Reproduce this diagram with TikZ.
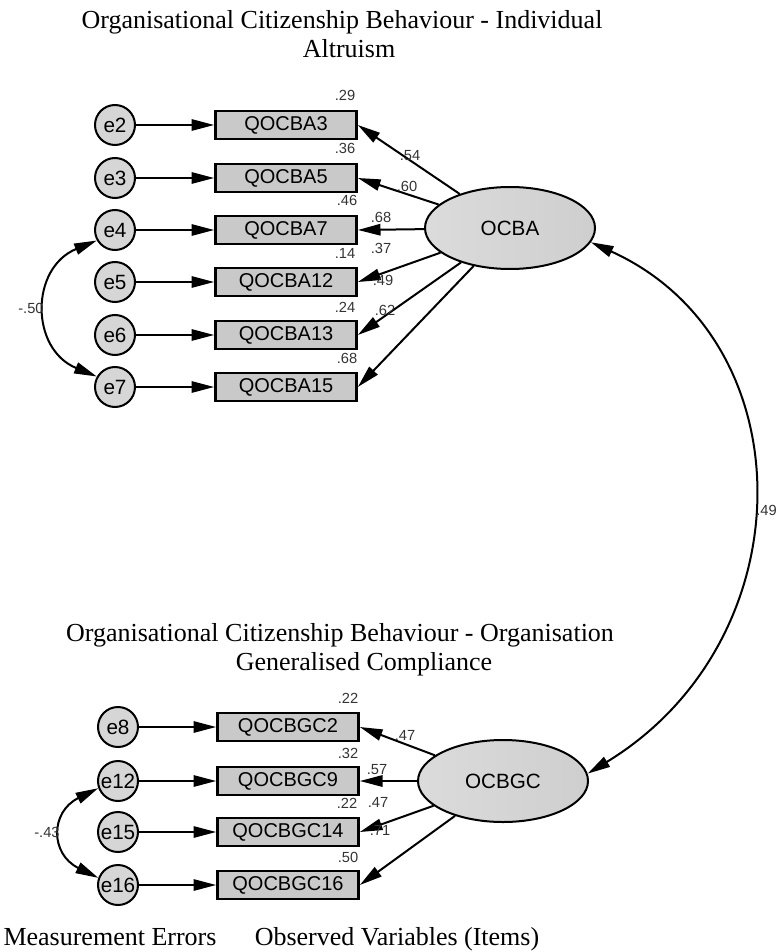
\documentclass[tikz,border=0pt]{standalone}
\usepackage{fontspec}
\setmainfont{Liberation Serif}
\newfontfamily\arialf{Liberation Sans}
\usetikzlibrary{arrows.meta,shapes.geometric}
\begin{document}
\begin{tikzpicture}[x=0.75pt,y=-0.75pt,
 errc/.style={circle,draw,line width=1.5pt,fill=gray!32,minimum size=30pt,inner sep=0pt,font=\arialf\fontsize{15.5}{18}\selectfont},
 obs/.style={rectangle,draw,line width=2pt,fill=gray!42,minimum width=105.75pt,minimum height=21pt,inner sep=0pt,font=\arialf\fontsize{15}{18}\selectfont},
 lat/.style={ellipse,draw,line width=1.5pt,left color=gray!28,right color=gray!38,minimum width=127.5pt,minimum height=61.5pt,inner sep=0pt,font=\arialf\fontsize{15.5}{18}\selectfont},
 arr/.style={-{Triangle[length=17pt,width=8.5pt]},line width=1.5pt},
 dbl/.style={{Triangle[length=17pt,width=8.5pt]}-{Triangle[length=17pt,width=8.5pt]},line width=1.5pt},
 num/.style={font=\arialf\fontsize{11}{13}\selectfont,text=black!80,inner sep=0pt},
 ttl/.style={font=\fontsize{19.5}{22}\selectfont,inner sep=0pt,anchor=base}]
\useasboundingbox (0,0) rectangle (777,952);

% titles
\node[ttl] (t1a) at (342,29) {Organisational Citizenship Behaviour - Individual};
\node[ttl] (t1b) at (349,58) {Altruism};
\node[ttl] (t2a) at (340,641) {Organisational Citizenship Behaviour - Organisation};
\node[ttl] (t2b) at (364,670) {Generalised Compliance};
\node[ttl] (b1) at (110,945) {Measurement Errors};
\node[ttl] (b2) at (397,945) {Observed Variables (Items)};

% upper block
\node[errc] (e2) at (115,125) {e2};
\node[errc] (e3) at (115,178) {e3};
\node[errc] (e4) at (115,230) {e4};
\node[errc] (e5) at (115,282) {e5};
\node[errc] (e6) at (115,335) {e6};
\node[errc] (e7) at (115,387) {e7};

\node[obs] (a3) at (286,125) {QOCBA3};
\node[obs] (a5) at (286,178) {QOCBA5};
\node[obs] (a7) at (286,230) {QOCBA7};
\node[obs] (a12) at (286,282) {QOCBA12};
\node[obs] (a13) at (286,335) {QOCBA13};
\node[obs] (a15) at (286,387) {QOCBA15};

\node[lat] (OCBA) at (510,228) {OCBA};

\foreach \e/\r in {e2/a3,e3/a5,e4/a7,e5/a12,e6/a13,e7/a15}
  \draw[arr] (\e) -- (\r.west);
\foreach \r in {a3,a5,a7,a12,a13,a15}
  \draw[arr] (OCBA) -- (\r.east);

\draw[dbl] (e4.210) .. controls (30,268) and (30,349) .. (e7.150);
\node[num] (c1) at (31,308) {-.50};

\node[num] (r3) at (345,95) {.29};
\node[num] (r5) at (345,148) {.36};
\node[num] (r7) at (347,200) {.46};
\node[num] (r12) at (345,253) {.14};
\node[num] (r13) at (345,307) {.24};
\node[num] (r15) at (347,358) {.68};
\node[num] (l3) at (410,156) {.54};
\node[num] (l5) at (407,186) {.60};
\node[num] (l7) at (381,217) {.68};
\node[num] (l12) at (381,248) {.37};
\node[num] (l13) at (383,280) {.49};
\node[num] (l15) at (385,310) {.62};

% lower block
\node[errc] (e8) at (118,727) {e8};
\node[errc] (e12) at (118,781) {e12};
\node[errc] (e15) at (118,832) {e15};
\node[errc] (e16) at (118,885) {e16};

\node[obs] (g2) at (288,727) {QOCBGC2};
\node[obs] (g9) at (288,781) {QOCBGC9};
\node[obs] (g14) at (288,832) {QOCBGC14};
\node[obs] (g16) at (288,885) {QOCBGC16};

\node[lat] (OCBGC) at (503,781) {OCBGC};

\foreach \e/\r in {e8/g2,e12/g9,e15/g14,e16/g16}
  \draw[arr] (\e) -- (\r.west);
\foreach \r in {g2,g9,g14,g16}
  \draw[arr] (OCBGC) -- (\r.east);

\draw[dbl] (e12.200) .. controls (50,812) and (50,854) .. (e16.160);
\node[num] (c2) at (47,832) {-.43};

\node[num] (s2) at (348,698) {.22};
\node[num] (s9) at (348,753) {.32};
\node[num] (s14) at (347,803) {.22};
\node[num] (s16) at (348,857) {.50};
\node[num] (k2) at (405,735) {.47};
\node[num] (k9) at (377,770) {.57};
\node[num] (k14) at (378,802) {.47};
\node[num] (k16) at (380,830) {.71};

% covariance between latents
\draw[dbl] (OCBA.-10) .. controls (807,340) and (807,640) .. (OCBGC.5);
\node[num,anchor=east] (c3) at (777,510) {.49};
\end{tikzpicture}
\end{document}
